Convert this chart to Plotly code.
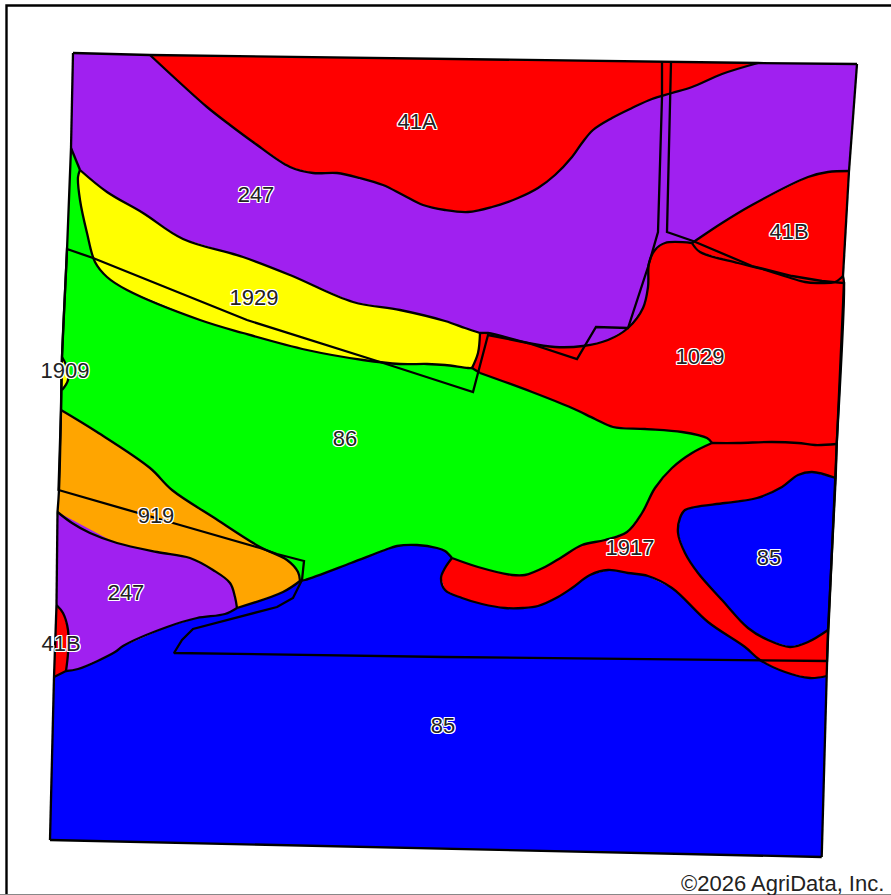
import plotly.graph_objects as go

# Soil colours
RED, PURPLE, YELLOW, GREEN, ORANGE, BLUE = "#ff0000", "#a020f0", "#ffff00", "#00ff00", "#ffa500", "#0000ff"

# Shared soil boundaries, in map units of the picture
b_top_247 = [(73,53),(150,55)]
b_top_41a = [(150,55),(758,63)]
b_top_ne = [(758,63),(857,64)]
b_41a_247 = [(150,55),(178,81),(207,107),(230,125),(253,142),(290,167),(313,173),(337,173),(360,178),(383,185),(403,195),(423,205),(445,210),(468,212),(492,207),(518,198),(538,188),(555,175),(572,157),(582,143),(593,130),(612,118),(632,108),(652,99),(672,93),(692,87),(722,74),(758,63)]
b_247_1929 = [(80,170),(107,192),(143,213),(183,239),(243,257),(290,275),(353,302),(400,310),(445,321),(465,328),(480,333)]
b_247_1029 = [(480,333),(488,333),(528,343),(555,347),(583,346),(608,340),(628,328),(643,308),(648,287),(649,263),(655,250),(665,243),(692,243)]
b_247_41b = [(692,243),(695,241),(722,223),(752,205),(808,177),(828,172),(849,171)]
b_1029_41b = [(692,243),(700,252),(738,263),(762,269),(805,282),(818,283),(835,282),(843,276)]
b_1929_86 = [(472,368),(468,368),(445,365),(427,364),(400,364),(363,360),(307,350),(243,333),(200,320),(127,290),(107,277),(95,262),(87,233),(80,200),(78,177),(80,170)]
b_1929_1029 = [(480,333),(478,353),(472,368)]
b_1029_86_link = [(472,368),(480,373)]
b_86_1029 = [(480,373),(532,392),(572,408),(595,419),(613,427),(645,429),(682,432),(707,438),(712,443)]
b_1029_1917 = [(712,443),(738,443),(772,442),(798,443),(815,445),(836.7,444)]
b_86_1917 = [(452,558),(478,567),(512,575),(525,575),(545,567),(562,557),(582,545),(605,540),(627,532),(642,513),(655,488),(672,468),(692,453),(712,443)]
b_86_85 = [(300,581),(305,580),(351,563),(385,550),(397,546),(417,545),(437,548),(445,551),(452,558)]
b_86_919 = [(61,410),(97,432),(150,468),(172,490),(213,517),(260,547),(287,560),(298,572),(300,581)]
b_919_85 = [(300,581),(283,592),(237,608)]
b_919_247 = [(237,608),(235,597),(230,583),(213,570),(190,558),(157,552),(117,543),(90,533),(72,523),(57.5,512)]
b_247_85 = [(66,671),(78,669),(115,652),(123,646),(167,627),(197,618),(225,614),(237,608)]
b_41b_sw = [(56.5,605),(63,613),(68,630),(68,653),(66,671)]
b_85_1917 = [(452,558),(445,568),(441,578),(445,590),(462,598),(482,604),(505,608),(523,608),(538,606),(558,597),(572,588),(590,575),(608,570),(628,573),(648,576),(672,588),(708,622),(745,647),(760,660),(785,672),(810,678),(826.7,676)]
b_85_blob = [(835.7,478),(812,472),(798,475),(782,487),(757,498),(725,503),(695,507),(685,510),(680,518),(678,533),(685,553),(698,573),(722,600),(748,628),(768,640),(790,647),(808,642),(828,630)]
b_1909 = [(62,357),(66,365),(68,380),(62,390)]

# Field edges
e_left_247 = [(71,148),(73,53)]
e_left_86a = [(71,148),(80,170)]
e_left_86 = [(71,148),(67,250),(62,357),(61,410)]
e_left_919 = [(61,410),(59,490),(57.5,512)]
e_left_247s = [(57.5,512),(56.5,605)]
e_left_41b = [(56.5,605),(54,677)]
e_foot_41b = [(54,677),(66,671)]
e_right_247 = [(857,64),(849,171)]
e_right_41b = [(849,171),(843,276)]
e_right_1029 = [(843,276),(844,283),(836.7,444)]
e_right_1917a = [(836.7,444),(835.7,478)]
e_right_blob = [(835.7,478),(828,630)]
e_right_1917b = [(828,630),(826.7,676)]
e_right_85 = [(826.7,676),(821.7,857)]
e_bottom = [(821.7,857),(50,840)]
e_left_85 = [(50,840),(54,677)]

# Overlaid tract line
tract_line = [(662,62),(662,97),(658,232),(648,267),(628,328),(596,327),(577,359),(528,343),(488,335),(473,392),(445,383),(377,361),(247,320),(93,258),(67,249),(62,357),(61,410),(58.5,490),(173,523),(260,548),(277,554),(304,561),(302,580),(293,598),(277,607),(193,629),(182,640),(174,653),(445,657),(760,660),(827,661),(844,283),(822,281),(792,276),(752,266),(693,241),(667,232),(671,62)]

# Labels
label_text = ["41A","247","1929","1909","86","1029","41B","919","247","41B","1917","85","85"]
label_x = [417,256,254,65,345,700,789,156,126,61,630,769,443]
label_y = [123,196,299,372,440,358,233,517,594,645,549,559,727]


def rev(b):
    return b[::-1]


soil_polygons = [
    ([e_foot_41b, b_247_85, rev(b_919_85), b_86_85, b_85_1917, e_right_85, e_bottom, e_left_85], BLUE),
    ([e_left_86, b_86_919, b_86_85, b_86_1917, rev(b_86_1029), rev(b_1029_86_link), b_1929_86, rev(e_left_86a)], GREEN),
    ([b_top_41a, rev(b_41a_247)], RED),
    ([b_top_247, b_41a_247, b_top_ne, e_right_247, rev(b_247_41b), rev(b_247_1029), rev(b_247_1929), rev(e_left_86a), e_left_247], PURPLE),
    ([b_247_1929, b_1929_1029, b_1929_86], YELLOW),
    ([b_247_1029, b_1029_41b, e_right_1029, rev(b_1029_1917), rev(b_86_1029), rev(b_1029_86_link), rev(b_1929_1029)], RED),
    ([b_247_41b, e_right_41b, rev(b_1029_41b)], RED),
    ([b_86_919, b_919_85, b_919_247, rev(e_left_919)], ORANGE),
    ([rev(b_919_247), e_left_247s, b_41b_sw, b_247_85], PURPLE),
    ([b_41b_sw, rev(e_foot_41b), rev(e_left_41b)], RED),
    ([b_1029_1917, e_right_1917a, b_85_blob, e_right_1917b, rev(b_85_1917), b_86_1917], RED),
    ([b_85_blob, rev(e_right_blob)], BLUE),
    ([b_1909], YELLOW),
]

boundaries = [b_top_247, b_top_41a, b_top_ne, b_41a_247, b_247_1929, b_247_1029, b_247_41b, b_1029_41b,
              b_1929_86, b_1929_1029, b_1029_86_link, b_86_1029, b_1029_1917, b_86_1917, b_86_85, b_86_919,
              b_919_85, b_919_247, b_247_85, b_41b_sw, b_85_1917, b_85_blob, b_1909,
              e_left_247, e_left_86a, e_left_86, e_left_919, e_left_247s, e_left_41b, e_foot_41b,
              e_right_247, e_right_41b, e_right_1029, e_right_1917a, e_right_blob, e_right_1917b, e_right_85,
              e_bottom, e_left_85]

fig = go.Figure()
for chain, colour in soil_polygons:
    pts = [p for b in chain for p in b]
    fig.add_trace(go.Scatter(x=[p[0] for p in pts], y=[p[1] for p in pts], mode="lines",
                             fill="toself", fillcolor=colour, line=dict(width=0, color=colour),
                             hoverinfo="skip", showlegend=False))

line_x, line_y = [], []
for b in boundaries:
    line_x += [p[0] for p in b] + [None]
    line_y += [p[1] for p in b] + [None]
fig.add_trace(go.Scatter(x=line_x, y=line_y, mode="lines",
                         line=dict(color="black", width=2.3, shape="spline", smoothing=1),
                         hoverinfo="skip", showlegend=False))

fig.add_trace(go.Scatter(x=[p[0] for p in tract_line], y=[p[1] for p in tract_line], mode="lines",
                         line=dict(color="black", width=2.3), hoverinfo="skip", showlegend=False))

# Page frame
fig.add_trace(go.Scatter(x=[6.5,6.5,891], y=[895,5.5,5.5], mode="lines",
                         line=dict(color="black", width=2.4), hoverinfo="skip", showlegend=False))
fig.add_trace(go.Scatter(x=[0,891], y=[894.5,894.5], mode="lines",
                         line=dict(color="#888888", width=1), hoverinfo="skip", showlegend=False))

halo = ",".join(f"{dx}px {dy}px 0 #fff" for dx in (-1,0,1) for dy in (-1,0,1) if dx or dy)
fig.add_trace(go.Scatter(x=label_x, y=label_y, mode="text", text=label_text, textposition="middle center",
                         textfont=dict(family="Liberation Sans", size=22, color="#222222", shadow=halo),
                         hoverinfo="skip", showlegend=False))
fig.add_annotation(x=886, y=883, xref="x", yref="y", text="©2026 AgriData, Inc.", showarrow=False,
                   xanchor="right", yanchor="middle", font=dict(family="Liberation Sans", size=22, color="#222222"))

fig.update_xaxes(range=[0,891], visible=False, fixedrange=True)
fig.update_yaxes(range=[895,0], visible=False, fixedrange=True)
fig.update_layout(width=891, height=895, margin=dict(l=0,r=0,t=0,b=0),
                  paper_bgcolor="white", plot_bgcolor="white", showlegend=False)
fig.write_html("out.html", config={"displayModeBar": False},
               post_script="document.body.style.margin='0';document.body.style.overflow='hidden';")
